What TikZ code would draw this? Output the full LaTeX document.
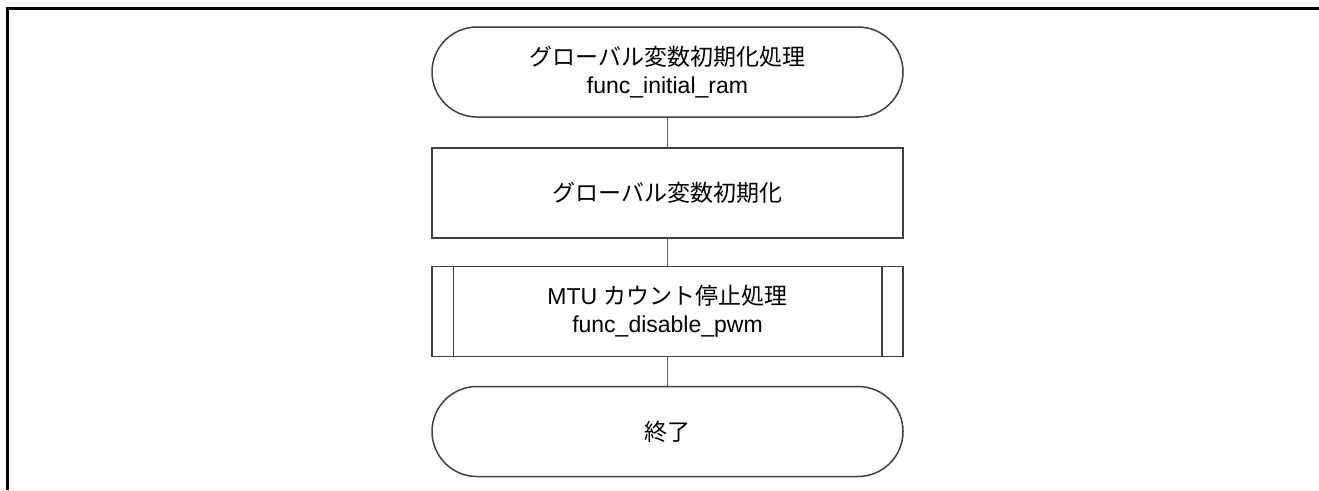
\documentclass[tikz,border=0pt]{standalone}
\usepackage{fontspec}
\setmainfont{Liberation Sans}
\newfontfamily\jp{Noto Sans CJK JP}
\usetikzlibrary{calc}
\definecolor{shapeline}{HTML}{404040}
\definecolor{connline}{HTML}{606060}
\tikzset{
  txt/.style={font=\fontsize{23}{28}\selectfont, align=center, text=black},
  terminal/.style={txt, draw=shapeline, line width=1.5pt, rounded corners=45pt, minimum width=471pt, minimum height=90pt, inner sep=0pt},
  procbox/.style={txt, draw=shapeline, line width=1.5pt, minimum width=471pt, minimum height=90pt, inner sep=0pt},
  conn/.style={draw=connline, line width=1pt},
  frameline/.style={draw=black, line width=3pt}
}
\begin{document}
\begin{tikzpicture}[x=1pt,y=-1pt]
\useasboundingbox (0,0) rectangle (1319,490);
\draw[frameline] (1319,8.5) -- (7,8.5) -- (7,490);
\node[terminal] (t1) at (667.5,72) {{\jp グローバル変数初期化処理}\\func\_initial\_ram};
\node[procbox] (p1) at (667.5,193) {{\jp グローバル変数初期化}};
\node[procbox] (s1) at (667.5,311.5) {MTU {\jp カウント停止処理}\\func\_disable\_pwm};
\draw[shapeline, line width=1.5pt] ($(s1.north west)+(22,0)$) -- ($(s1.south west)+(22,0)$);
\draw[shapeline, line width=1.5pt] ($(s1.north east)+(-22,0)$) -- ($(s1.south east)+(-22,0)$);
\node[terminal] (t2) at (667.5,431.5) {{\jp 終了}};
\draw[conn] (t1) -- (p1);
\draw[conn] (p1) -- (s1);
\draw[conn] (s1) -- (t2);
\end{tikzpicture}
\end{document}
